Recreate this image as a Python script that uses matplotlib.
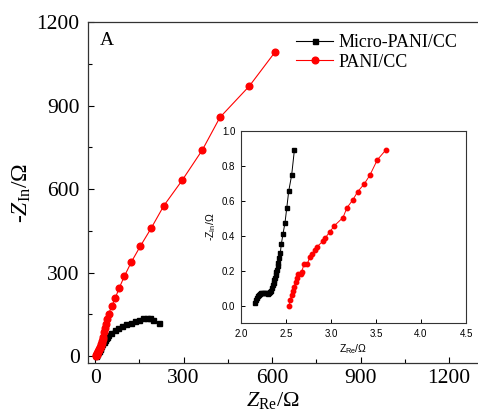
import matplotlib
matplotlib.use("Agg")
import matplotlib.pyplot as plt
from matplotlib.ticker import MultipleLocator

# ---------------- data ----------------
micro_x = [2.2, 3, 4.5, 6.5, 9, 12, 15, 18, 21, 25, 29, 33, 37, 41, 45, 54, 66, 77,
           90, 104, 121, 136, 150, 164, 175, 186, 198, 218]
micro_y = [0, 2, 5, 9, 14, 19, 24, 30, 36, 43, 50, 57, 64, 70, 76, 84, 93, 101,
           109, 115, 120, 125, 129, 135, 138, 135, 129, 117]

pani_x = [2.5, 3.5, 5, 6.5, 8, 9.5, 11, 12.5, 14, 15.5, 17, 18.5, 20, 22, 24, 26, 28,
          30.5, 33, 35.5, 40, 46, 57, 69, 82, 99, 123, 153, 190, 233, 295, 364, 423, 523, 610]
pani_y = [0, 2, 5, 8, 11, 14, 18, 21, 25, 29, 33, 37, 42, 48, 55, 62, 69,
          86, 102, 116, 133, 152, 180, 210, 245, 286, 338, 394, 459, 540, 631, 741, 857, 970, 1092]

micro_in_x = [2.156, 2.163, 2.174, 2.185, 2.197, 2.21, 2.222, 2.235, 2.25, 2.265, 2.28,
              2.295, 2.31, 2.325, 2.338, 2.348, 2.357, 2.363, 2.37, 2.378, 2.385, 2.393,
              2.40, 2.407, 2.415, 2.426, 2.437, 2.448, 2.467, 2.489, 2.508, 2.53, 2.563, 2.593]
micro_in_y = [0.015, 0.03, 0.045, 0.055, 0.062, 0.068, 0.072, 0.07, 0.072, 0.07, 0.071,
              0.069, 0.072, 0.076, 0.085, 0.10, 0.115, 0.13, 0.145, 0.16, 0.175, 0.19,
              0.205, 0.225, 0.245, 0.27, 0.303, 0.352, 0.411, 0.475, 0.557, 0.655, 0.748, 0.89]

pani_in_x = [2.537, 2.544, 2.563, 2.581, 2.589, 2.607, 2.622, 2.63, 2.667, 2.674, 2.703,
             2.737, 2.763, 2.789, 2.826, 2.841, 2.915, 2.937, 2.989, 3.037, 3.133, 3.178,
             3.241, 3.296, 3.37, 3.433, 3.515, 3.607]
pani_in_y = [0.0, 0.03, 0.059, 0.081, 0.106, 0.135, 0.157, 0.178, 0.182, 0.195, 0.239,
             0.238, 0.276, 0.295, 0.318, 0.335, 0.371, 0.388, 0.424, 0.457, 0.504, 0.561,
             0.604, 0.652, 0.697, 0.748, 0.835, 0.89]

labels = ["Micro-PANI/CC", "PANI/CC"]
main_xticks = [0, 300, 600, 900, 1200]
main_yticks = [0, 300, 600, 900, 1200]
inset_xticks = [2.0, 2.5, 3.0, 3.5, 4.0, 4.5]
inset_yticks = [0.0, 0.2, 0.4, 0.6, 0.8, 1.0]

RED = "#ff0000"
plt.rcParams["mathtext.fontset"] = "custom"
plt.rcParams["mathtext.rm"] = "Liberation Serif"
plt.rcParams["mathtext.it"] = "Liberation Serif:italic"
plt.rcParams["mathtext.sf"] = "Liberation Sans"

W, H = 478, 412
fig = plt.figure(figsize=(W / 100, H / 100), dpi=100)

# main axes (pixel geometry)
l, r, t, b = 88, 484.5, 22, 363
ax = fig.add_axes([l / W, 1 - b / H, (r - l) / W, (b - t) / H])
ax.plot(micro_x, micro_y, color="black", marker="s", ms=3.6, lw=0.8, label=labels[0])
ax.plot(pani_x, pani_y, color=RED, marker="o", ms=4.8, lw=0.8, label=labels[1])
ax.set_xlim(-24, 1320)
ax.set_ylim(-25, 1200)
ax.set_xticks(main_xticks)
ax.set_yticks(main_yticks)
ax.xaxis.set_minor_locator(MultipleLocator(150))
ax.yaxis.set_minor_locator(MultipleLocator(150))
ax.tick_params(which="both", direction="in", top=False, right=False,
               labelsize=15.5, pad=6)
ax.tick_params(axis="x", which="both", pad=4.5)
ax.tick_params(which="major", length=4, width=0.8)
ax.tick_params(which="minor", length=3, width=0.8)
for lab in ax.get_xticklabels() + ax.get_yticklabels():
    lab.set_fontfamily("Liberation Serif")
for s in ax.spines.values():
    s.set_linewidth(0.9)
    s.set_color("#333333")
ax.spines["right"].set_visible(False)

ax.set_xlabel(r"$Z_{\mathrm{Re}}$/Ω", fontsize=16, family="Liberation Serif")
ax.xaxis.set_label_coords((273 - l) / (r - l), -(411 - b) / (b - t), transform=ax.transAxes)
ax.xaxis.label.set_va("bottom")
ax.set_ylabel(r"-$Z_{\mathrm{In}}$/Ω", fontsize=17, family="Liberation Serif")
ax.yaxis.set_label_coords(-(l - 22) / (r - l), 0.5, transform=ax.transAxes)
ax.yaxis.label.set_va("center")

fig.text(100 / W, 1 - 45 / H, "A", fontsize=14, family="Liberation Serif",
         ha="left", va="baseline")

leg = ax.legend(loc="upper left", bbox_to_anchor=(296 / W, 1 - 34 / H),
                bbox_transform=fig.transFigure, frameon=False,
                prop={"family": "Liberation Serif", "size": 13},
                handlelength=2.05, handletextpad=0.3, labelspacing=0.15,
                borderpad=0, borderaxespad=0)

# inset axes
il, ir, it_, ib = 241, 466, 131, 323
ins = fig.add_axes([il / W, 1 - ib / H, (ir - il) / W, (ib - it_) / H])
ins.plot(micro_in_x, micro_in_y, color="black", marker="s", ms=2.8, lw=0.7)
ins.plot(pani_in_x, pani_in_y, color=RED, marker="o", ms=3.2, lw=0.7)
ins.set_xlim(2.0, 4.5)
ins.set_ylim(-0.1, 1.0)
ins.set_xticks(inset_xticks)
ins.set_yticks(inset_yticks)
ins.set_xticklabels([f"{v:.1f}" for v in inset_xticks])
ins.set_yticklabels([f"{v:.1f}" for v in inset_yticks])
ins.tick_params(direction="in", top=False, right=False, length=3, width=0.7,
                labelsize=7, pad=4)
for lab in ins.get_xticklabels() + ins.get_yticklabels():
    lab.set_fontfamily("Liberation Sans")
for s in ins.spines.values():
    s.set_linewidth(0.8)
    s.set_color("#333333")
ins.set_xlabel(r"Z$_{\mathsf{Re}}$/Ω", fontsize=7.5, family="Liberation Sans", labelpad=3)
ins.set_ylabel(r"-Z$_{\mathsf{In}}$/Ω", fontsize=7.5, family="Liberation Sans", labelpad=3)

fig.savefig("out.png", dpi=100)
